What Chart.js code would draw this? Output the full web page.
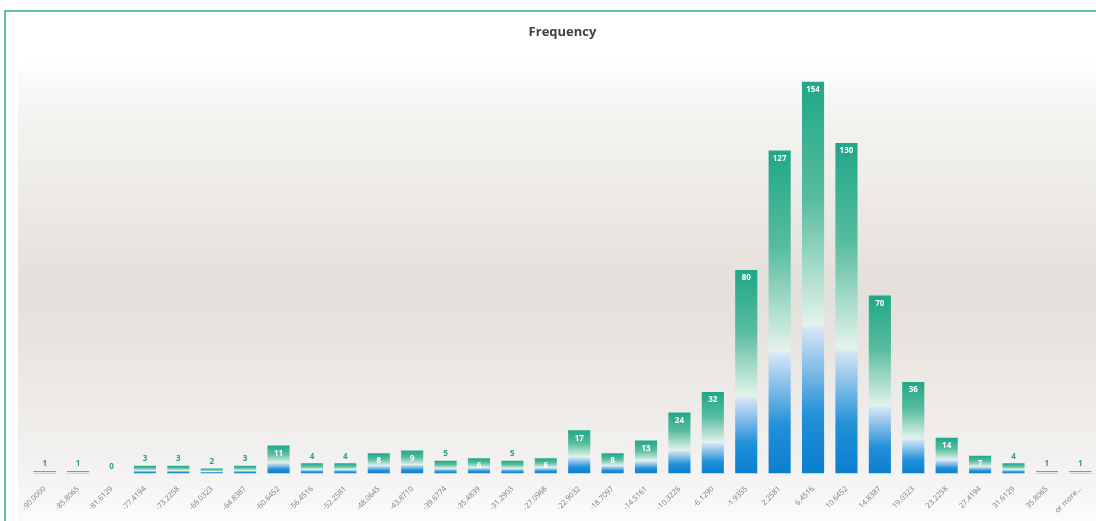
<!DOCTYPE html>
<html>
<head>
<meta charset="utf-8">
<script src="https://cdn.jsdelivr.net/npm/chart.js@4.4.1/dist/chart.umd.min.js"></script>
<style>
  html, body { margin: 0; padding: 0; background: #fff; overflow: hidden; }
  #wrap { position: absolute; left: 0; top: 0; width: 1100px; height: 521px; }
</style>
</head>
<body>
<div id="wrap"><canvas id="chart" width="1100" height="521"></canvas></div>
<script>
// bins (upper bounds) and counts
var bins = ["-90.0000", "-85.8065", "-81.6129", "-77.4194", "-73.2258", "-69.0323", "-64.8387",
  "-60.6452", "-56.4516", "-52.2581", "-48.0645", "-43.8710", "-39.6774", "-35.4839",
  "-31.2903", "-27.0968", "-22.9032", "-18.7097", "-14.5161", "-10.3226", "-6.1290",
  "-1.9355", "2.2581", "6.4516", "10.6452", "14.8387", "19.0323", "23.2258", "27.4194",
  "31.6129", "35.8065", "or more..."];
var counts = [1, 1, 0, 3, 3, 2, 3, 11, 4, 4, 8, 9, 5, 6, 5, 6, 17, 8, 13, 24, 32, 80, 127, 154,
  130, 70, 36, 14, 7, 4, 1, 1];

var teal = "#22a889";

function barFill(c) {
  var chart = c.chart;
  if (!chart.chartArea) return teal;
  var y = chart.scales.y;
  var top = y.getPixelForValue(c.raw);
  var base = y.getPixelForValue(0);
  if (base - top < 1) return teal;
  var g = chart.ctx.createLinearGradient(0, top, 0, base);
  g.addColorStop(0, "#1fa789");
  g.addColorStop(0.3, "#58bc9f");
  g.addColorStop(0.62, "#e4f3ec");
  g.addColorStop(0.635, "#d2e3f6");
  g.addColorStop(0.85, "#2390d8");
  g.addColorStop(1, "#0a7ecf");
  return g;
}

// background, frame and value labels
var decor = {
  id: "decor",
  beforeDraw: function(chart) {
    var ctx = chart.ctx;
    ctx.save();
    var g = ctx.createLinearGradient(0, 60, 0, 521);
    g.addColorStop(0, "#ffffff");
    g.addColorStop(0.08, "#f7f6f4");
    g.addColorStop(0.5, "#e3dfda");
    g.addColorStop(0.85, "#f2f0ee");
    g.addColorStop(1, "#fbfbfb");
    ctx.fillStyle = g;
    ctx.fillRect(18, 60, 1082, 461);
    ctx.strokeStyle = "#5cbfb1";
    ctx.lineWidth = 2;
    ctx.beginPath();
    ctx.moveTo(5, 521);
    ctx.lineTo(5, 11);
    ctx.lineTo(1100, 11);
    ctx.stroke();
    ctx.restore();
  },
  afterDatasetsDraw: function(chart) {
    var ctx = chart.ctx;
    var meta = chart.getDatasetMeta(0);
    ctx.save();
    ctx.font = "bold 8px 'Open Sans', sans-serif";
    ctx.textAlign = "center";
    meta.data.forEach(function(bar, i) {
      var v = counts[i];
      if (v >= 6) {
        ctx.fillStyle = "#ffffff";
        ctx.textBaseline = "top";
        ctx.fillText(String(v), bar.x, bar.y + 4);
      } else {
        ctx.fillStyle = "#2a9f82";
        ctx.textBaseline = "bottom";
        ctx.fillText(String(v), bar.x, bar.y - 3);
      }
    });
    ctx.restore();
  }
};

new Chart(document.getElementById("chart").getContext("2d"), {
  type: "bar",
  data: {
    labels: bins,
    datasets: [{
      data: counts,
      backgroundColor: barFill,
      borderWidth: 0,
      barPercentage: 0.72,
      categoryPercentage: 0.92
    }]
  },
  options: {
    responsive: false,
    animation: false,
    layout: { padding: { left: 28, right: 3, top: 0, bottom: 3 } },
    plugins: {
      legend: { display: false },
      tooltip: { enabled: false },
      title: {
        display: true,
        text: "Frequency",
        color: "#404040",
        font: { family: "'Open Sans', sans-serif", size: 13, weight: "bold" },
        padding: { top: 24, bottom: 27 }
      }
    },
    scales: {
      x: {
        grid: { display: false },
        border: { display: false },
        ticks: {
          color: "#7a7a7a",
          font: { family: "'Open Sans', sans-serif", size: 7.5 },
          minRotation: 45,
          maxRotation: 45,
          autoSkip: false,
          padding: 3
        }
      },
      y: {
        display: false,
        min: 0,
        max: 160
      }
    }
  },
  plugins: [decor]
});
</script>
</body>
</html>
